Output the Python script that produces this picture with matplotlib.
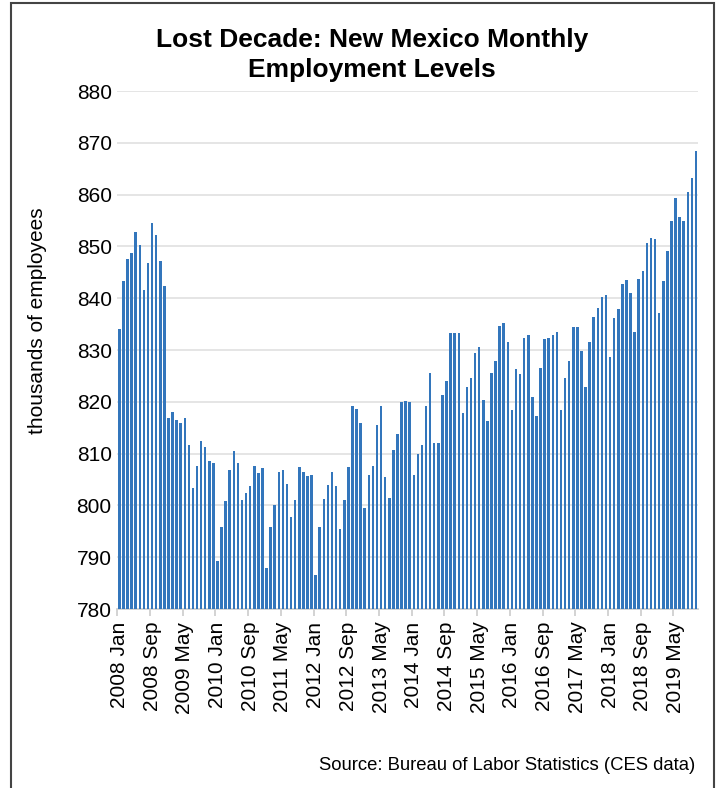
import numpy as np
import matplotlib
matplotlib.use("Agg")
import matplotlib.pyplot as plt
from matplotlib.patches import Rectangle

plt.rcParams['font.family'] = ['Liberation Sans', 'DejaVu Sans']

# monthly employment, thousands, 2008 Jan .. 2019 Oct
employment = [
    834.0, 843.3, 847.5, 848.8, 852.7, 850.2, 841.6, 846.8, 854.6, 852.2, 847.1, 842.3,
    816.8, 818.1, 816.5, 816.0, 816.8, 811.6, 803.3, 807.7, 812.5, 811.2, 808.6, 808.2,
    789.2, 795.8, 800.8, 806.9, 810.5, 808.1, 801.0, 802.4, 803.7, 807.7, 806.2, 807.2,
    787.9, 795.9, 800.0, 806.5, 806.8, 804.2, 797.8, 801.1, 807.5, 806.5, 805.7, 805.8,
    786.5, 795.9, 801.3, 804.0, 806.5, 803.7, 795.5, 801.1, 807.4, 819.2, 818.6, 816.0,
    799.5, 805.9, 807.7, 815.6, 819.2, 805.5, 801.5, 810.6, 813.7, 819.9, 820.2, 819.9,
    805.9, 809.9, 811.6, 819.2, 825.5, 812.1, 812.0, 821.3, 824.1, 833.2, 833.2, 833.2,
    817.8, 822.9, 824.6, 829.5, 830.6, 820.3, 816.2, 825.6, 827.9, 834.7, 835.2, 831.5,
    818.4, 826.3, 825.4, 832.4, 832.9, 821.0, 817.3, 826.6, 832.1, 832.4, 832.9, 833.5,
    818.4, 824.6, 827.8, 834.4, 834.4, 829.8, 822.8, 831.6, 836.3, 838.1, 840.3, 840.7,
    828.6, 836.1, 837.9, 842.8, 843.5, 841.0, 833.4, 843.8, 845.3, 850.6, 851.6, 851.5,
    837.1, 843.3, 849.2, 854.9, 859.3, 855.7, 854.9, 860.5, 863.3, 868.4,
]

# every 8th month is labelled
tick_labels = [
    '2008 Jan', '2008 Sep', '2009 May', '2010 Jan', '2010 Sep', '2011 May',
    '2012 Jan', '2012 Sep', '2013 May', '2014 Jan', '2014 Sep', '2015 May',
    '2016 Jan', '2016 Sep', '2017 May', '2018 Jan', '2018 Sep', '2019 May',
]
y_ticks = [780, 790, 800, 810, 820, 830, 840, 850, 860, 870, 880]

fig = plt.figure(figsize=(7.25, 7.88), dpi=100)
ax = fig.add_axes([117.3 / 725, 1 - 609 / 788, (698 - 117.3) / 725, (609 - 91) / 788])

x = np.arange(len(employment))
ax.bar(x, employment, width=0.62, color='#3376bc', zorder=3)

ax.set_ylim(780, 880)
ax.set_xlim(-0.5, len(employment) - 0.5)
ax.set_yticks(y_ticks)
ax.set_yticklabels([str(v) for v in y_ticks], fontsize=15)
ax.grid(axis='y', color='#e3e3e3', linewidth=1.3, zorder=0)
ax.tick_params(axis='y', length=0, pad=4)

ax.set_xticks(np.arange(0, len(employment), 8))
ax.set_xticklabels(tick_labels, rotation=90, fontsize=15)
ax.set_xticks(np.arange(-0.5, len(employment), 8), minor=True)
ax.tick_params(axis='x', which='major', length=0, pad=9)
ax.tick_params(axis='x', which='minor', length=5, width=1.3, color='#d0d0d0')

for s in ['top', 'right', 'left']:
    ax.spines[s].set_visible(False)
ax.spines['bottom'].set_color('#d0d0d0')
ax.spines['bottom'].set_linewidth(1.3)

fig.text(372 / 725, 1 - 40 / 788, 'Lost Decade: New Mexico Monthly', ha='center', va='center',
         fontsize=19, fontweight='bold')
fig.text(372 / 725, 1 - 70 / 788, 'Employment Levels', ha='center', va='center',
         fontsize=19, fontweight='bold')
fig.text(38 / 725, 1 - 321 / 788, 'thousands of employees', rotation=90, ha='center', va='center',
         fontsize=15)
fig.text(695 / 725, 1 - 766 / 788, 'Source: Bureau of Labor Statistics (CES data)', ha='right',
         va='center', fontsize=13.3)

# chart border
fig.patches.append(Rectangle((11 / 725, -0.05), (714 - 11) / 725, 1.05 - 3 / 788,
                             transform=fig.transFigure, fill=False, edgecolor='#444444',
                             linewidth=1.5))

fig.savefig('out.png', dpi=100)
